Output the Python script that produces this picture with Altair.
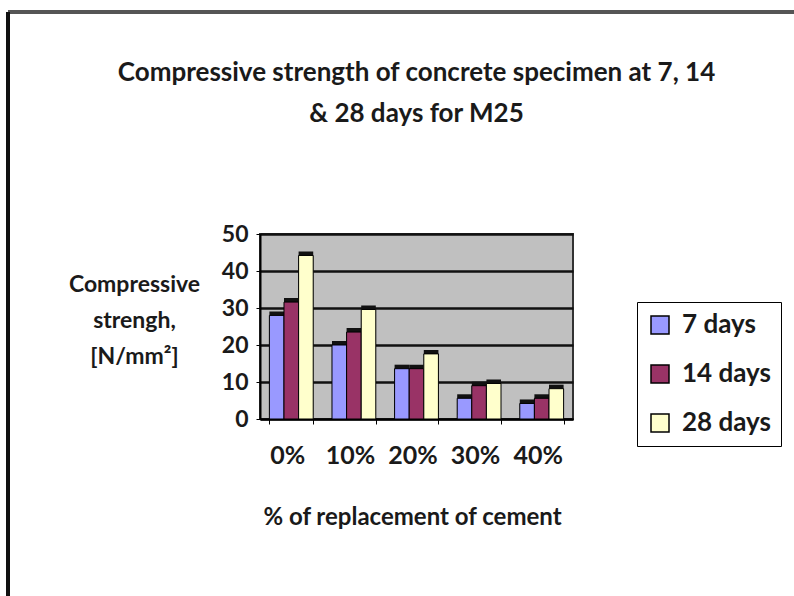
import altair as alt
import pandas as pd

categories = ["0%", "10%", "20%", "30%", "40%"]
series = ["7 days", "14 days", "28 days"]
days7 = [28.0, 20.0, 13.6, 5.6, 4.2]
days14 = [31.6, 23.5, 13.6, 9.0, 5.6]
days28 = [44.2, 29.6, 17.6, 9.6, 8.2]
colors = ["#9999FF", "#993366", "#FFFFCC"]

rows = []
for i, c in enumerate(categories):
    for s, vals in zip(series, [days7, days14, days28]):
        rows.append({"cat": c, "series": s, "value": vals[i]})
df = pd.DataFrame(rows)

FONT = "Lato"
W, H = 313, 185
PL, PT = 260, 234
TXT = "#1a1a1a"

x = alt.X("cat:N", sort=categories, scale=alt.Scale(paddingInner=0.3, paddingOuter=0.15),
          axis=alt.Axis(title="% of replacement of cement", labelAngle=0, labelFontSize=25,
                        labelFont=FONT, labelFontWeight="bold", labelColor=TXT, labelPadding=19,
                        labelOffset=-4,
                        domainColor="#000", domainWidth=2, tickColor="#000", tickBand="extent",
                        tickSize=5, titleFont=FONT, titleFontSize=24, titleFontWeight="bold",
                        titleColor=TXT, titleX=152, titleY=98, titleBaseline="middle"))
y = alt.Y("value:Q", scale=alt.Scale(domain=[0, 50]),
          axis=alt.Axis(values=[0, 10, 20, 30, 40, 50], labelFontSize=23, labelFont=FONT,
                        labelFontWeight="bold", labelPadding=8,
                        labelColor=TXT, domainColor="#000", domainWidth=2, tickColor="#000",
                        tickSize=4, gridColor="#111", gridWidth=2.5,
                        title=["Compressive", "strengh,", "[N/mm²]"], titleAngle=0,
                        titleFont=FONT, titleFontSize=23, titleFontWeight="bold",
                        titleColor=TXT, titleX=-126, titleY=39, titleBaseline="top",
                        titleAlign="center", titleLineHeight=36))

color = alt.Color("series:N", sort=series, scale=alt.Scale(domain=series, range=colors),
                  legend=alt.Legend(title=None, orient="none", legendX=377, legendY=68,
                                    labelFont=FONT, labelFontSize=26, labelFontWeight="bold",
                                    labelColor=TXT, symbolType="square", symbolSize=324,
                                    symbolStrokeColor="#000", symbolStrokeWidth=1.5,
                                    labelOffset=9, rowPadding=23, padding=10,
                                    strokeColor="#000", fillColor="#fff"))

shadow = alt.Chart(df).mark_bar(color="#111", xOffset=4, yOffset=-4).encode(
    x=x, xOffset=alt.XOffset("series:N", sort=series), y=y)
bars = alt.Chart(df).mark_bar(stroke="#000", strokeWidth=1).encode(
    x=x, xOffset=alt.XOffset("series:N", sort=series), y=y, color=color)

frame_top = alt.Chart(df).mark_rule(color="#555", strokeWidth=4).encode(
    x=alt.value(8 - PL), x2=alt.value(800 - PL), y=alt.value(12 - PT))
frame_left = alt.Chart(df).mark_rule(color="#111", strokeWidth=3).encode(
    x=alt.value(8 - PL), y=alt.value(12 - PT), y2=alt.value(600 - PT))

chart = alt.layer(shadow, bars, frame_top, frame_left).properties(
    width=W, height=H,
    autosize="none",
    padding={"left": PL, "top": PT, "right": 794 - PL - W, "bottom": 596 - PT - H},
    background="#ffffff",
    title=alt.TitleParams(["Compressive strength of concrete specimen at 7, 14", "& 28 days for M25"],
                          font=FONT, fontSize=26, fontWeight="bold", color=TXT,
                          lineHeight=41, offset=0, dy=117, anchor="middle"),
).configure_view(fill="#C0C0C0", stroke="#333", strokeWidth=2)

chart.save("out.html", embed_options={"renderer": "svg", "actions": False})
